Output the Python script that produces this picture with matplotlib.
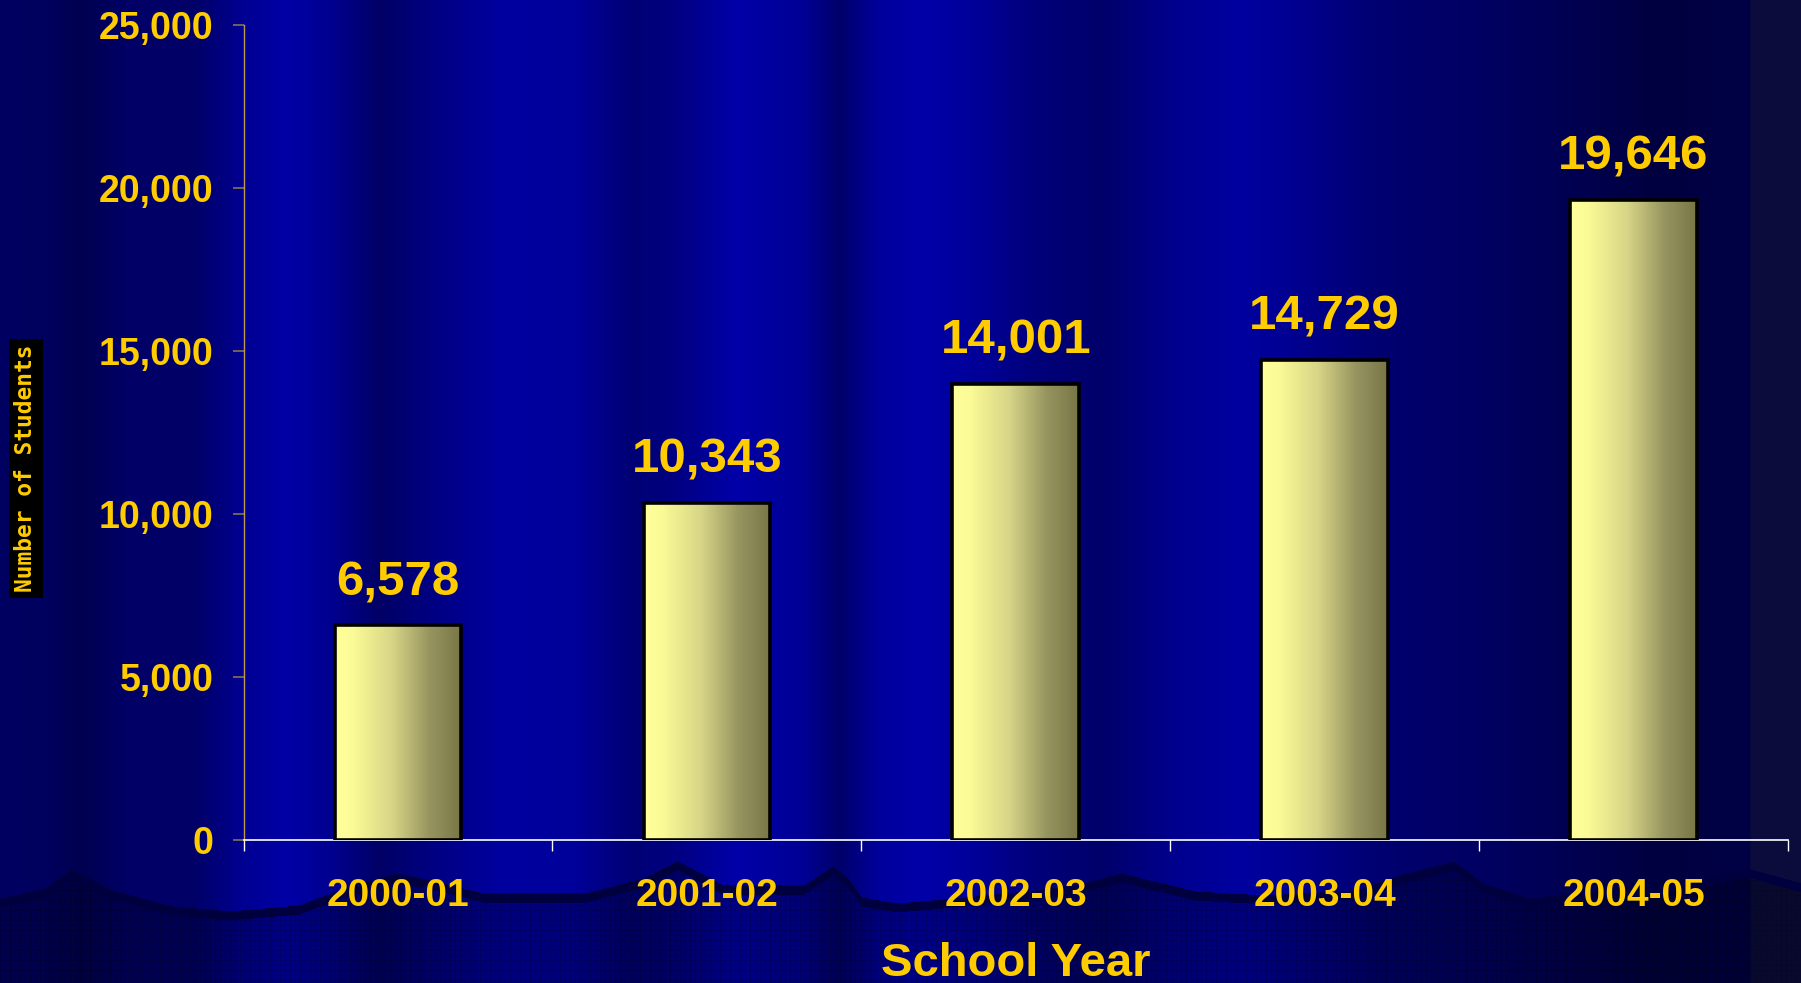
import numpy as np
import matplotlib
matplotlib.use('Agg')
import matplotlib.pyplot as plt
from matplotlib.colors import to_rgb

# ---------------- data ----------------
years = ['2000-01', '2001-02', '2002-03', '2003-04', '2004-05']
students = [6578, 10343, 14001, 14729, 19646]
value_labels = ['6,578', '10,343', '14,001', '14,729', '19,646']
y_ticks = [0, 5000, 10000, 15000, 20000, 25000]
y_tick_labels = ['0', '5,000', '10,000', '15,000', '20,000', '25,000']

# ---------------- style ----------------
W, H, DPI = 1801, 983, 100
YELLOW = '#FFCC00'
plt.rcParams['font.family'] = ['Liberation Sans', 'DejaVu Sans']
plt.rcParams['font.weight'] = 'bold'

fig = plt.figure(figsize=(W / DPI, H / DPI), dpi=DPI)

# ---------------- background (decorative) ----------------
bg_stops = [
    (0, '#000062'), (40, '#00005E'), (70, '#000050'), (110, '#000066'),
    (170, '#000068'), (211, '#000092'), (250, '#0000A6'), (290, '#00008E'),
    (330, '#000066'), (380, '#000084'), (440, '#0000A0'), (500, '#00009A'),
    (550, '#000074'), (585, '#000080'), (640, '#0000A8'), (700, '#000094'),
    (730, '#00006A'), (765, '#00009C'), (800, '#0000A8'), (850, '#000098'),
    (900, '#00007A'), (960, '#00006A'), (1020, '#00008E'), (1080, '#0000A0'),
    (1130, '#00008E'), (1200, '#000070'), (1300, '#000060'), (1440, '#000040'),
    (1522, '#000046'), (1523, '#0C0C3C'), (1568, '#0C0C3C'),
]
sx = np.array([s[0] for s in bg_stops]) / 1568 * W
sc = np.array([to_rgb(s[1]) for s in bg_stops])
cols = np.arange(W)
row_rgb = np.stack([np.interp(cols, sx, sc[:, k]) for k in range(3)], axis=1)
img = np.repeat(row_rgb[None, :, :], H, axis=0)

wave = [
    (0, 900), (40, 890), (62, 871), (100, 893), (150, 908), (200, 913),
    (260, 907), (300, 890), (345, 875), (380, 883), (420, 895), (510, 895),
    (560, 880), (590, 863), (605, 872), (630, 887), (700, 887), (725, 868),
    (738, 880), (750, 899), (780, 905), (830, 900), (900, 892), (940, 886),
    (975, 875), (1000, 882), (1040, 893), (1100, 897), (1180, 892),
    (1220, 876), (1265, 863), (1290, 885), (1330, 900), (1370, 895),
    (1430, 888), (1480, 880), (1520, 870), (1568, 885),
]
wx = np.array([p[0] for p in wave]) / 1568 * W
wy = np.array([p[1] for p in wave], dtype=float)
ywave = np.interp(cols, wx, wy)
rows = np.arange(H)[:, None]
below = rows > ywave[None, :]
img[below] *= 0.8
grid = ((rows % 5 == 0) | (cols[None, :] % 5 == 0)) & below
img[grid] *= 0.82
edge = (rows >= ywave[None, :] - 2) & (rows <= ywave[None, :] + 7)
img[edge] = to_rgb('#00003E')

bg = fig.add_axes([0, 0, 1, 1], zorder=-10)
bg.imshow(img, aspect='auto', interpolation='nearest')
bg.set_axis_off()

# ---------------- main axes ----------------
x0, x1, y0, y1 = 243.5, 1788, 839.6, 25.3
ax = fig.add_axes([x0 / W, (H - y0) / H, (x1 - x0) / W, (y0 - y1) / H])
ax.patch.set_alpha(0)

x = np.arange(len(years))
bars = ax.bar(x, students, width=0.41, facecolor='none', edgecolor='black',
              linewidth=2.6, zorder=3)

g_t = [0, 0.15, 0.45, 0.75, 1.0]
g_c = np.array([to_rgb(c) for c in ['#FFFF9C', '#FAFA96', '#D7D587', '#96945F', '#787646']])
tt = np.linspace(0, 1, 256)
grad = np.stack([np.interp(tt, g_t, g_c[:, k]) for k in range(3)], axis=1)[None, :, :]
for b in bars:
    bx, bw, bh = b.get_x(), b.get_width(), b.get_height()
    ax.imshow(grad, extent=[bx, bx + bw, 0, bh], aspect='auto', zorder=2,
              interpolation='bilinear')

for xi, v, lbl in zip(x, students, value_labels):
    ax.annotate(lbl, (xi, v), xytext=(0, 21.6), textcoords='offset points',
                ha='center', va='baseline', fontsize=35.5, fontweight='bold',
                color=YELLOW)

ax.set_xlim(-0.5, len(years) - 0.5)
ax.set_ylim(0, 25000)

ax.set_xticks(np.arange(-0.5, len(years), 1.0))
ax.set_xticklabels([])
ax.set_xticks(x, minor=True)
ax.set_xticklabels(years, minor=True)
ax.tick_params(axis='x', which='major', length=8, width=1, color='white',
               direction='out')
ax.tick_params(axis='x', which='minor', length=0, pad=28, labelsize=28,
               labelcolor=YELLOW)

ax.set_yticks(y_ticks)
ax.set_yticklabels(y_tick_labels)
ax.tick_params(axis='y', length=8, width=1.2, color='#8C7448', pad=13.7,
               labelsize=27, labelcolor=YELLOW)

for s in ['top', 'right']:
    ax.spines[s].set_visible(False)
ax.spines['left'].set_color('#C09850')
ax.spines['left'].set_linewidth(1)
ax.spines['bottom'].set_color('white')
ax.spines['bottom'].set_linewidth(1.2)

fig.text((x0 + x1) / 2 / W, 7 / H, 'School Year', ha='center', va='baseline',
         fontsize=34, fontweight='bold', color=YELLOW)

fig.text(26 / W, 1 - 468.5 / H, 'Number of Students', rotation=90,
         ha='center', va='center', family=['DejaVu Sans Mono'],
         fontsize=16.5, fontweight='bold', color=YELLOW,
         bbox=dict(facecolor='black', edgecolor='none', pad=4))

fig.savefig('out.png', dpi=DPI)
